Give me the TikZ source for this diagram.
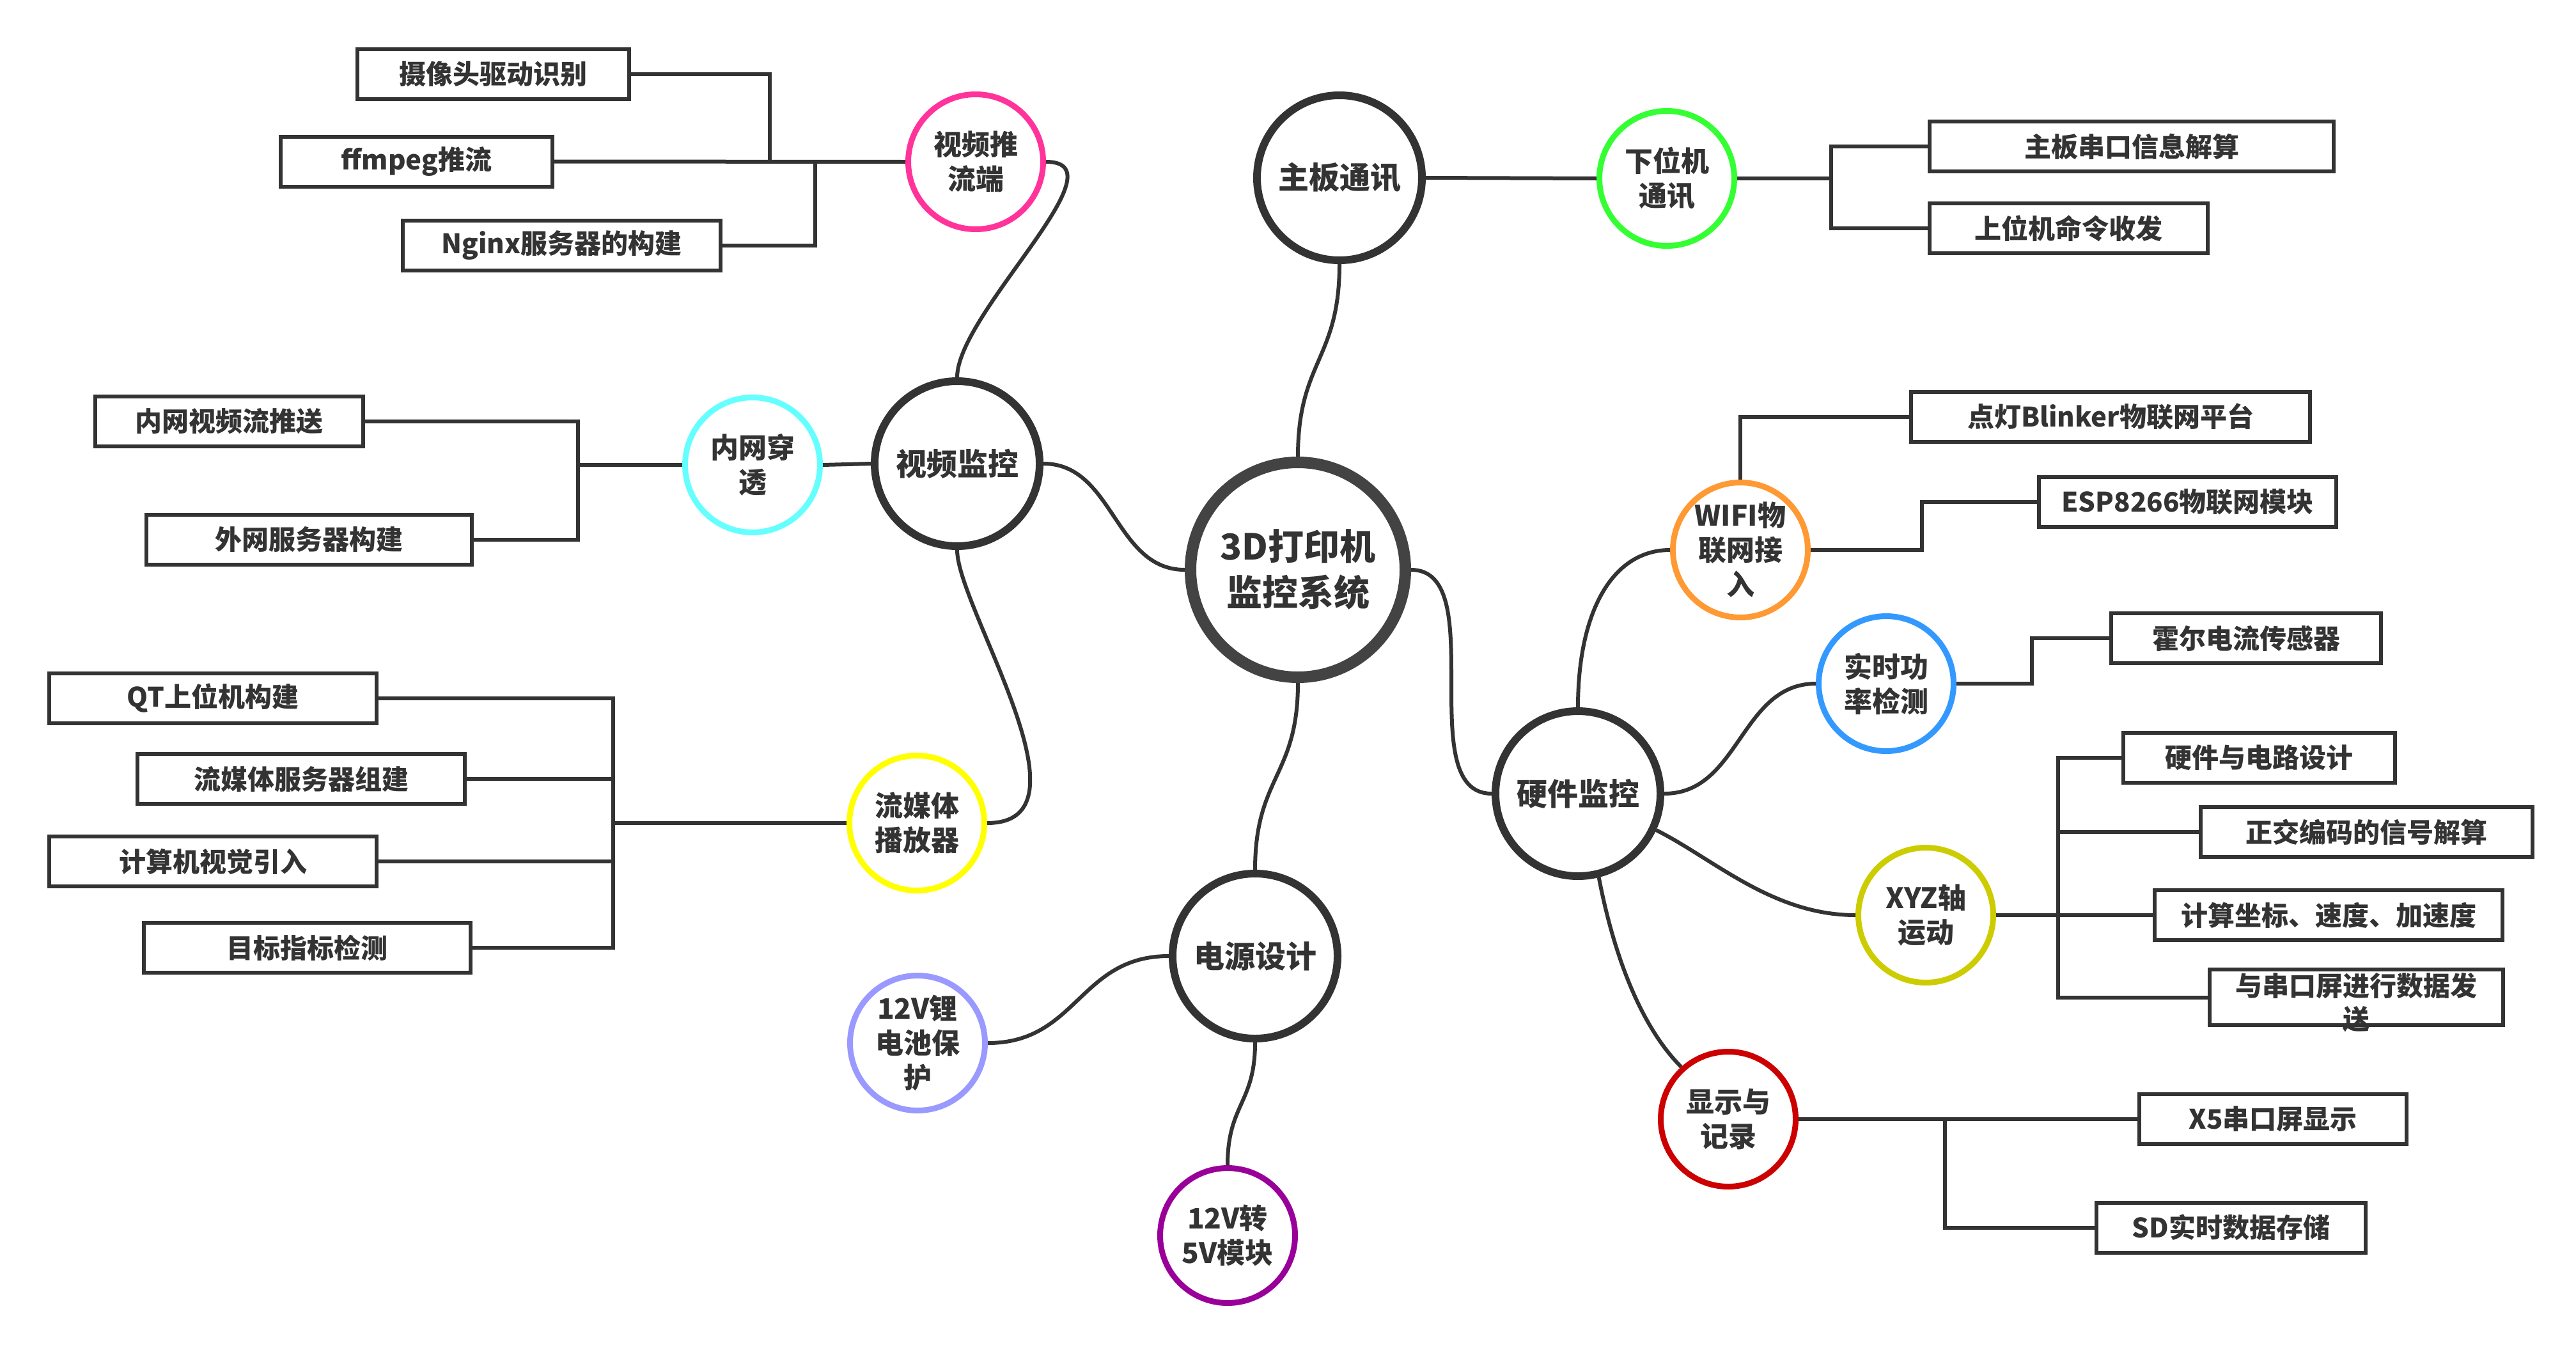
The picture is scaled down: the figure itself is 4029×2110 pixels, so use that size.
\documentclass[tikz,border=0pt]{standalone}
\usepackage{fontspec}
\setmainfont{Noto Sans CJK SC}
\definecolor{ink}{HTML}{333333}
\definecolor{dark}{HTML}{333333}
\definecolor{hubc}{HTML}{434343}
\definecolor{pinkc}{HTML}{FF3399}
\definecolor{cyanc}{HTML}{66FFFF}
\definecolor{yellowc}{HTML}{FFFF00}
\definecolor{greenc}{HTML}{33FF33}
\definecolor{lavc}{HTML}{9999FF}
\definecolor{purplec}{HTML}{990099}
\definecolor{orangec}{HTML}{FF9933}
\definecolor{bluec}{HTML}{3399FF}
\definecolor{olivec}{HTML}{CCCC00}
\definecolor{redc}{HTML}{CC0000}
\tikzset{
  conn/.style={draw=dark, line width=6pt},
  hub/.style={circle, draw=hubc, line width=18pt, fill=white, minimum size=336pt,
    inner sep=0pt, align=center, text=ink, font=\bfseries\fontsize{56}{72}\selectfont},
  topic/.style={circle, draw=dark, line width=12pt, fill=white, minimum size=258pt,
    inner sep=0pt, align=center, text=ink, font=\bfseries\fontsize{48}{58}\selectfont},
  sub/.style={circle, draw=#1, line width=9pt, fill=white, minimum size=211pt,
    inner sep=0pt, align=center, text=ink, font=\bfseries\fontsize{44}{54}\selectfont},
  leaf/.style={rectangle, draw=dark, line width=6pt, fill=white, minimum height=78pt,
    minimum width=#1, inner sep=0pt, align=center, text=ink,
    font=\bfseries\fontsize{42}{52}\selectfont},
  leaftext/.style={inner sep=0pt, align=center, text=ink,
    font=\bfseries\fontsize{42}{52}\selectfont},
}
\begin{document}
\begin{tikzpicture}[x=1pt, y=-1pt]
\useasboundingbox (0,0) rectangle (4029,2110);

% centre and main branches
\node[hub] (hub) at (2030,891) {3D打印机\\监控系统};
\node[topic] (sp) at (1497,725) {视频监控};
\node[topic] (zb) at (2095,278) {主板通讯};
\node[topic] (dy) at (1963,1495) {电源设计};
\node[topic] (hw) at (2468,1241) {硬件监控};

% second level
\node[sub=pinkc]   (tl)  at (1526,253)  {视频推\\流端};
\node[sub=cyanc]   (nw)  at (1177,727)  {内网穿\\透};
\node[sub=yellowc] (lm)  at (1434,1287) {流媒体\\播放器};
\node[sub=greenc]  (xw)  at (2607,279)  {下位机\\通讯};
\node[sub=lavc]    (li)  at (1435,1631) {12V锂\\电池保\\护};
\node[sub=purplec] (v5)  at (1920,1932) {12V转\\5V模块};
\node[sub=orangec] (wf)  at (2722,860)  {WIFI物\\联网接\\入};
\node[sub=bluec]   (ss)  at (2950,1069) {实时功\\率检测};
\node[sub=olivec]  (xyz) at (3012,1431) {XYZ轴\\运动};
\node[sub=redc]    (xs)  at (2703,1750) {显示与\\记录};

% leaves: video push
\node[leaf=425pt] (cam) at (771.5,115.5) {摄像头驱动识别};
\node[leaf=425pt] (ff)  at (651.5,252.5) {ffmpeg推流};
\node[leaf=497pt] (ng)  at (878.5,384)   {Nginx服务器的构建};
% leaves: tunnelling
\node[leaf=419pt] (nw1) at (358.5,659)   {内网视频流推送};
\node[leaf=509pt] (nw2) at (483.5,844)   {外网服务器构建};
% leaves: stream player
\node[leaf=512pt] (qt)  at (333,1091.5)  {QT上位机构建};
\node[leaf=512pt] (ms)  at (471,1218)    {流媒体服务器组建};
\node[leaf=512pt] (cv)  at (333,1347)    {计算机视觉引入};
\node[leaf=511pt] (od)  at (480.5,1482)  {目标指标检测};
% leaves: lower machine
\node[leaf=632pt] (mb1) at (3334,229)    {主板串口信息解算};
\node[leaf=435pt] (mb2) at (3235.5,357)  {上位机命令收发};
% leaves: wifi
\node[leaf=624pt] (dd)  at (3301,651.5)  {点灯Blinker物联网平台};
\node[leaf=465pt] (esp) at (3421.5,785)  {ESP8266物联网模块};
% leaves: power sensing
\node[leaf=422pt] (hall) at (3513,998)   {霍尔电流传感器};
% leaves: axes
\node[leaf=425pt] (hd)  at (3533.5,1185) {硬件与电路设计};
\node[leaf=519pt] (qe)  at (3701.5,1301) {正交编码的信号解算};
\node[leaf=544pt] (ca)  at (3642,1431)   {计算坐标、速度、加速度};
\node[leaf=459pt, minimum height=87pt] (sbox) at (3685.5,1559.5) {};
\node[leaftext] (stxt) at (3685.5,1568) {与串口屏进行数据发\\送};
% leaves: display
\node[leaf=418pt] (x5)  at (3555,1750)   {X5串口屏显示};
\node[leaf=421pt] (sd)  at (3489.5,1919.5) {SD实时数据存储};

% curved branches
\draw[conn] (hub.west)  .. controls +(-110,0) and +(110,0) .. (sp.east);
\draw[conn] (hub.north) .. controls +(0,-150) and +(0,150) .. (zb.south);
\draw[conn] (hub.east)  .. controls +(126,0) and +(-126,0) .. (hw.west);
\draw[conn] (hub.south) .. controls +(0,146) and +(0,-146) .. (dy.north);
\draw[conn] (sp.north)  .. controls +(0,-100) and +(125,0) .. (tl.east);
\draw[conn] (sp.south)  .. controls +(0,90) and +(175,0) .. (lm.east);
\draw[conn] (sp.west) -- (nw.east);
\draw[conn] (zb.east) -- (xw.west);
\draw[conn] (dy.west)  .. controls +(-140,0) and +(140,0) .. (li.east);
\draw[conn] (dy.south) .. controls +(0,96) and +(0,-96) .. (v5.north);
\draw[conn] (hw.north) .. controls +(0,-150) and +(-90,0) .. (wf.west);
\draw[conn] (hw.east)  .. controls +(118,0) and +(-118,0) .. (ss.west);
\draw[conn] (hw.-25)   .. controls +(90,45) and +(-130,0) .. (xyz.west);
\draw[conn] (hw.-76)   .. controls +(25,130) and +(-60,-60) .. (xs.132);

% elbow links to leaves
\draw[conn] (tl.west) -- (ff.east);
\draw[conn] (tl.west) -- ++(-212,0) |- (cam.east);
\draw[conn] (tl.west) -- ++(-141,0) |- (ng.east);

\draw[conn] (nw.west) -- ++(-163,0) |- (nw1.east);
\draw[conn] (nw.west) -- ++(-163,0) |- (nw2.east);

\draw[conn] (lm.west) -- ++(-365,0) |- (qt.east);
\draw[conn] (lm.west) -- ++(-365,0) |- (ms.east);
\draw[conn] (lm.west) -- ++(-365,0) |- (cv.east);
\draw[conn] (lm.west) -- ++(-365,0) |- (od.east);

\draw[conn] (xw.east) -- ++(147,0) |- (mb1.west);
\draw[conn] (xw.east) -- ++(147,0) |- (mb2.west);

\draw[conn] (wf.north) |- (dd.west);
\draw[conn] (wf.east) -- ++(174,0) |- (esp.west);

\draw[conn] (ss.east) -- ++(118,0) |- (hall.west);

\draw[conn] (xyz.east) -- ++(97,0) |- (hd.west);
\draw[conn] (xyz.east) -- ++(97,0) |- (qe.west);
\draw[conn] (xyz.east) -- (ca.west);
\draw[conn] (xyz.east) -- ++(97,0) |- (sbox.west);

\draw[conn] (xs.east) -- (x5.west);
\draw[conn] (xs.east) -- ++(229,0) |- (sd.west);
\end{tikzpicture}
\end{document}
